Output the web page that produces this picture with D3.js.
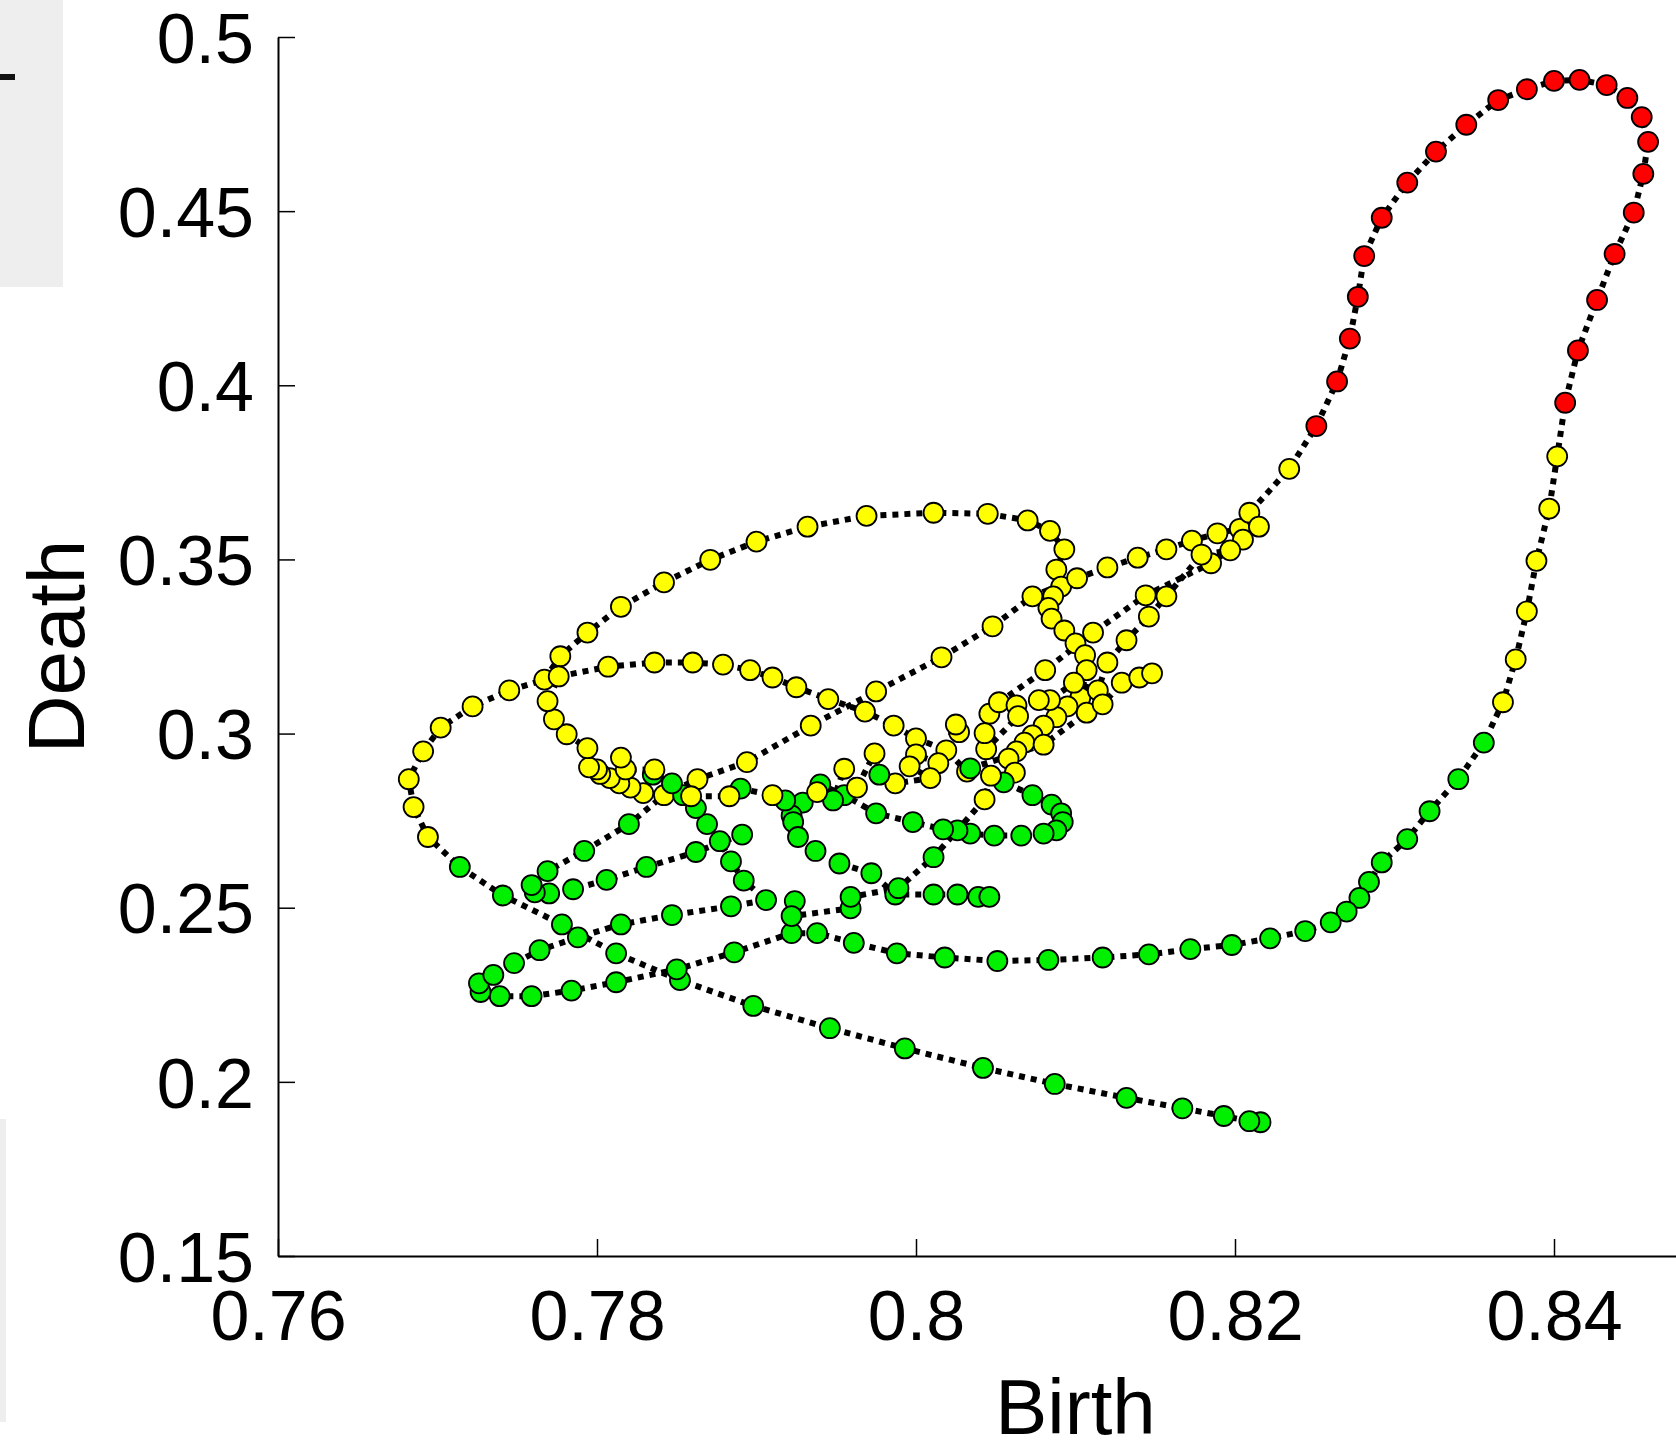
<!DOCTYPE html>
<html>
<head>
<meta charset="utf-8">
<script src="https://cdn.jsdelivr.net/npm/d3@7"></script>
<style>
  body { margin: 0; background: #ffffff; }
  svg { display: block; }
  text { font-family: "Liberation Sans", Arial, Helvetica, sans-serif; }
</style>
</head>
<body>
<svg id="chart" width="1676" height="1454"></svg>
<script>
// Trajectory runs in the (birth, death) plane: [birth, death, phase]
// phase: g = green, y = yellow, r = red
const runA = [
  [0.8216,0.1884,"g"],[0.8209,0.1887,"g"],[0.8193,0.1902,"g"],[0.8167,0.1924,"g"],[0.8132,0.1954,"g"],
  [0.8087,0.1994,"g"],[0.8042,0.2040,"g"],[0.7993,0.2096,"g"],[0.7946,0.2154,"g"],[0.7898,0.2218,"g"],
  [0.7852,0.2292,"g"],[0.7812,0.2369,"g"],[0.7778,0.2452,"g"],[0.7741,0.2535,"g"],[0.7714,0.2617,"g"],
  [0.7694,0.2703,"y"],[0.7685,0.2789,"y"],[0.7682,0.2869,"y"],[0.7691,0.2949,"y"],[0.7702,0.3017,"y"],
  [0.7722,0.3078,"y"],[0.7745,0.3124,"y"],[0.7767,0.3155,"y"],[0.7777,0.3222,"y"],[0.7794,0.3290,"y"],
  [0.7815,0.3364,"y"],[0.7842,0.3434,"y"],[0.7871,0.3499,"y"],[0.7900,0.3551,"y"],[0.7932,0.3594,"y"],
  [0.7969,0.3625,"y"],[0.8011,0.3634,"y"],[0.8045,0.3631,"y"],[0.8070,0.3612,"y"],[0.8084,0.3582,"y"],
  [0.8093,0.3529,"y"],[0.8088,0.3471,"y"],[0.8091,0.3422,"y"],[0.8086,0.3394,"y"],[0.8083,0.3361,"y"],
  [0.8085,0.3330,"y"],[0.8093,0.3296,"y"],[0.8100,0.3259,"y"],[0.8106,0.3225,"y"],[0.8107,0.3182,"y"],
  [0.8103,0.3103,"y"],[0.8095,0.3078,"y"],[0.8088,0.3047,"y"],[0.8080,0.3023,"y"],[0.8073,0.2995,"y"],
  [0.8068,0.2974,"y"],[0.8063,0.2949,"y"],[0.8058,0.2928,"y"],[0.8062,0.2888,"y"],[0.8055,0.2860,"g"],
  [0.8073,0.2823,"g"],[0.8085,0.2796,"g"],[0.8091,0.2771,"g"],[0.8092,0.2746,"g"],[0.8088,0.2722,"g"],
  [0.8080,0.2713,"g"],[0.8066,0.2707,"g"],[0.8049,0.2707,"g"],[0.8034,0.2713,"g"],[0.8026,0.2722,"g"],
  [0.8017,0.2725,"g"],[0.7998,0.2746,"g"],[0.7975,0.2771,"g"],[0.7955,0.2823,"g"],[0.7940,0.2854,"g"],
  [0.7929,0.2802,"g"],[0.7922,0.2765,"g"],[0.7923,0.2746,"g"],[0.7926,0.2703,"g"],[0.7937,0.2663,"g"],
  [0.7952,0.2627,"g"],[0.7972,0.2599,"g"],[0.7987,0.2538,"g"],[0.8011,0.2538,"g"],[0.8026,0.2538,"g"],
  [0.8039,0.2531,"g"],[0.8046,0.2531,"g"]
];

const runB = [
  [0.7891,0.2710,"g"],[0.7862,0.2660,"g"],[0.7831,0.2617,"g"],[0.7806,0.2580,"g"],[0.7785,0.2553,"g"],
  [0.7770,0.2541,"g"],[0.7761,0.2544,"g"],[0.7759,0.2565,"g"],[0.7769,0.2605,"g"],[0.7792,0.2663,"g"],
  [0.7820,0.2740,"g"],[0.7842,0.2823,"y"],[0.7863,0.2869,"y"],[0.7894,0.2918,"y"],[0.7934,0.3023,"y"],
  [0.7975,0.3121,"y"],[0.8016,0.3219,"y"],[0.8048,0.3308,"y"],[0.8073,0.3394,"y"],[0.8101,0.3446,"y"],
  [0.8120,0.3477,"y"],[0.8139,0.3505,"y"],[0.8157,0.3529,"y"],[0.8173,0.3554,"y"],[0.8189,0.3575,"y"],
  [0.8203,0.3588,"y"],[0.8209,0.3634,"y"],[0.8234,0.3760,"y"],[0.8251,0.3883,"r"],[0.8264,0.4011,"r"],
  [0.8272,0.4134,"r"],[0.8277,0.4254,"r"],[0.8281,0.4371,"r"],[0.8292,0.4481,"r"],[0.8308,0.4582,"r"],
  [0.8326,0.4671,"r"],[0.8345,0.4748,"r"],[0.8365,0.4819,"r"],[0.8383,0.4850,"r"],[0.8400,0.4874,"r"],
  [0.8416,0.4877,"r"],[0.8433,0.4862,"r"],[0.8446,0.4825,"r"],[0.8455,0.4770,"r"],[0.8459,0.4699,"r"],
  [0.8456,0.4607,"r"],[0.8450,0.4496,"r"],[0.8438,0.4377,"r"],[0.8427,0.4245,"r"],[0.8415,0.4100,"r"],
  [0.8407,0.3950,"r"],[0.8402,0.3796,"y"],[0.8397,0.3646,"y"],[0.8389,0.3496,"y"],[0.8383,0.3351,"y"],
  [0.8376,0.3213,"y"],[0.8368,0.3090,"y"],[0.8356,0.2974,"g"],[0.8340,0.2869,"g"],[0.8322,0.2777,"g"],
  [0.8308,0.2697,"g"],[0.8292,0.2630,"g"],[0.8284,0.2574,"g"],[0.8278,0.2528,"g"],[0.8270,0.2489,"g"],
  [0.8260,0.2458,"g"],[0.8244,0.2433,"g"],[0.8222,0.2412,"g"],[0.8198,0.2393,"g"],[0.8172,0.2381,"g"],
  [0.8146,0.2366,"g"],[0.8117,0.2357,"g"],[0.8083,0.2350,"g"],[0.8051,0.2347,"g"],[0.8018,0.2357,"g"],
  [0.7988,0.2369,"g"],[0.7961,0.2399,"g"],[0.7938,0.2427,"g"],[0.7922,0.2427,"g"],[0.7886,0.2372,"g"],
  [0.7850,0.2323,"g"],[0.7812,0.2286,"g"],[0.7784,0.2262,"g"],[0.7759,0.2246,"g"],[0.7739,0.2246,"g"],
  [0.7727,0.2258,"g"],[0.7726,0.2283,"g"],[0.7735,0.2307,"g"],[0.7748,0.2341,"g"],[0.7764,0.2378,"g"],
  [0.7788,0.2415,"g"],[0.7815,0.2452,"g"],[0.7847,0.2479,"g"],[0.7884,0.2504,"g"],[0.7906,0.2522,"g"],
  [0.7892,0.2578,"g"],[0.7884,0.2633,"g"],[0.7877,0.2691,"g"],[0.7869,0.2740,"g"],[0.7862,0.2786,"g"],
  [0.7854,0.2823,"g"],[0.7847,0.2857,"g"],[0.7835,0.2882,"g"],[0.7829,0.2829,"y"],[0.7821,0.2845,"y"],
  [0.7814,0.2857,"y"],[0.7808,0.2872,"y"],[0.7802,0.2884,"y"],[0.7800,0.2897,"y"],[0.7795,0.2903,"y"],
  [0.7794,0.2958,"y"],[0.7781,0.2998,"y"],[0.7773,0.3041,"y"],[0.7769,0.3093,"y"],[0.7776,0.3164,"y"],
  [0.7807,0.3192,"y"],[0.7836,0.3204,"y"],[0.7860,0.3204,"y"],[0.7879,0.3198,"y"],[0.7896,0.3182,"y"],
  [0.7910,0.3161,"y"],[0.7925,0.3133,"y"],[0.7945,0.3099,"y"],[0.7968,0.3063,"y"],[0.7986,0.3023,"y"],
  [0.8000,0.2986,"y"],[0.8019,0.2952,"y"],[0.8032,0.2891,"y"]
];

const runC = [
  [0.7924,0.2519,"g"],[0.7922,0.2476,"g"],[0.7959,0.2498,"g"],[0.7959,0.2531,"g"],[0.7989,0.2556,"g"],
  [0.8011,0.2645,"g"],[0.8043,0.2811,"y"],[0.8047,0.2879,"y"],[0.8046,0.3057,"y"],[0.8052,0.3090,"y"],
  [0.8081,0.3182,"y"],[0.8111,0.3290,"y"],[0.8144,0.3397,"y"],[0.8185,0.3489,"y"],[0.8205,0.3557,"y"],
  [0.8215,0.3594,"y"],[0.8197,0.3526,"y"],[0.8179,0.3514,"y"],[0.8157,0.3394,"y"],[0.8146,0.3336,"y"],
  [0.8132,0.3268,"y"],[0.8120,0.3204,"y"],[0.8114,0.3124,"y"],[0.8099,0.3146,"y"],[0.8084,0.3096,"y"],
  [0.8077,0.3096,"y"],[0.8063,0.3081,"y"],[0.8064,0.3050,"y"],[0.8044,0.2955,"y"],[0.8043,0.3001,"y"],
  [0.8027,0.3004,"y"],[0.8025,0.3026,"y"],[0.8014,0.2915,"y"],[0.8000,0.2940,"y"],[0.7996,0.2906,"y"],
  [0.8009,0.2872,"y"],[0.7987,0.2857,"y"],[0.7977,0.2882,"g"],[0.7974,0.2943,"y"],[0.7963,0.2845,"y"],
  [0.7955,0.2899,"y"],[0.7948,0.2808,"g"],[0.7938,0.2832,"y"],[0.7918,0.2808,"g"],[0.7910,0.2823,"y"],
  [0.7890,0.2842,"g"],[0.7883,0.2820,"y"],[0.7859,0.2820,"y"],[0.7836,0.2897,"y"],[0.7818,0.2897,"y"],
  [0.7815,0.2931,"y"]
];

const runD = [
  [0.8034,0.2900,"g"],[0.8080,0.2968,"y"],[0.8107,0.3060,"y"],[0.8117,0.3084,"y"],[0.8129,0.3146,"y"],
  [0.8140,0.3161,"y"],[0.8148,0.3173,"y"]
];

const runs = [runA, runB, runC, runD];

const xTicks = [0.76, 0.78, 0.8, 0.82, 0.84];
const yTicks = [0.15, 0.2, 0.25, 0.3, 0.35, 0.4, 0.45, 0.5];
const xDomain = [0.76, 0.86];
const yDomain = [0.15, 0.5];
const phaseColor = { g: "#00f000", y: "#ffff00", r: "#ff0000" };

const svg = d3.select("#chart");

// fragments of the neighbouring panels on the left edge
svg.append("rect").attr("x", 0).attr("y", 0).attr("width", 63).attr("height", 287).attr("fill", "#eeeeee");
svg.append("rect").attr("x", 0).attr("y", 74).attr("width", 15).attr("height", 6).attr("fill", "#111111");
svg.append("rect").attr("x", 0).attr("y", 1119).attr("width", 6).attr("height", 303).attr("fill", "#eeeeee");

const plotLeft = 278, plotTop = 37, plotBottom = 1256, plotRight = 1873;
const x = d3.scaleLinear().domain(xDomain).range([plotLeft, plotRight]);
const y = d3.scaleLinear().domain(yDomain).range([plotBottom, plotTop]);

const fmt = d => d3.format("")(d);

const gx = svg.append("g").attr("transform", `translate(0,${plotBottom})`)
  .call(d3.axisBottom(x).tickValues(xTicks).tickFormat(fmt).tickSizeInner(-17).tickSizeOuter(0).tickPadding(34));
const gy = svg.append("g").attr("transform", `translate(${plotLeft},0)`)
  .call(d3.axisLeft(y).tickValues(yTicks).tickFormat(fmt).tickSizeInner(-17).tickSizeOuter(0).tickPadding(24));

[gx, gy].forEach(g => {
  g.select(".domain").attr("stroke", "#000").attr("stroke-width", 2);
  g.selectAll(".tick line").attr("stroke", "#000").attr("stroke-width", 1.5);
  g.selectAll(".tick text").attr("fill", "#000").attr("font-size", 70)
    .attr("font-family", "'Liberation Sans', Arial, sans-serif");
});
gx.selectAll(".tick text").attr("dy", "0.71em");
gy.selectAll(".tick text").attr("dy", "0.36em");

svg.append("text").attr("x", (plotLeft + plotRight) / 2).attr("y", 1434)
  .attr("text-anchor", "middle").attr("font-size", 78).attr("fill", "#000").text("Birth");
svg.append("text").attr("transform", `translate(84,${(plotTop + plotBottom) / 2}) rotate(-90)`)
  .attr("text-anchor", "middle").attr("font-size", 80).attr("fill", "#000").text("Death");

const plot = svg.append("g");
const line = d3.line().x(d => x(d[0])).y(d => y(d[1]));

plot.selectAll("path.run").data(runs).join("path")
  .attr("class", "run")
  .attr("d", line)
  .attr("fill", "none")
  .attr("stroke", "#000")
  .attr("stroke-width", 6)
  .attr("stroke-dasharray", "6,6");

plot.selectAll("g.markers").data(runs).join("g").attr("class", "markers")
  .selectAll("circle").data(d => d).join("circle")
  .attr("cx", d => x(d[0]))
  .attr("cy", d => y(d[1]))
  .attr("r", 10)
  .attr("fill", d => phaseColor[d[2]])
  .attr("stroke", "#000")
  .attr("stroke-width", 1.8);
</script>
</body>
</html>
